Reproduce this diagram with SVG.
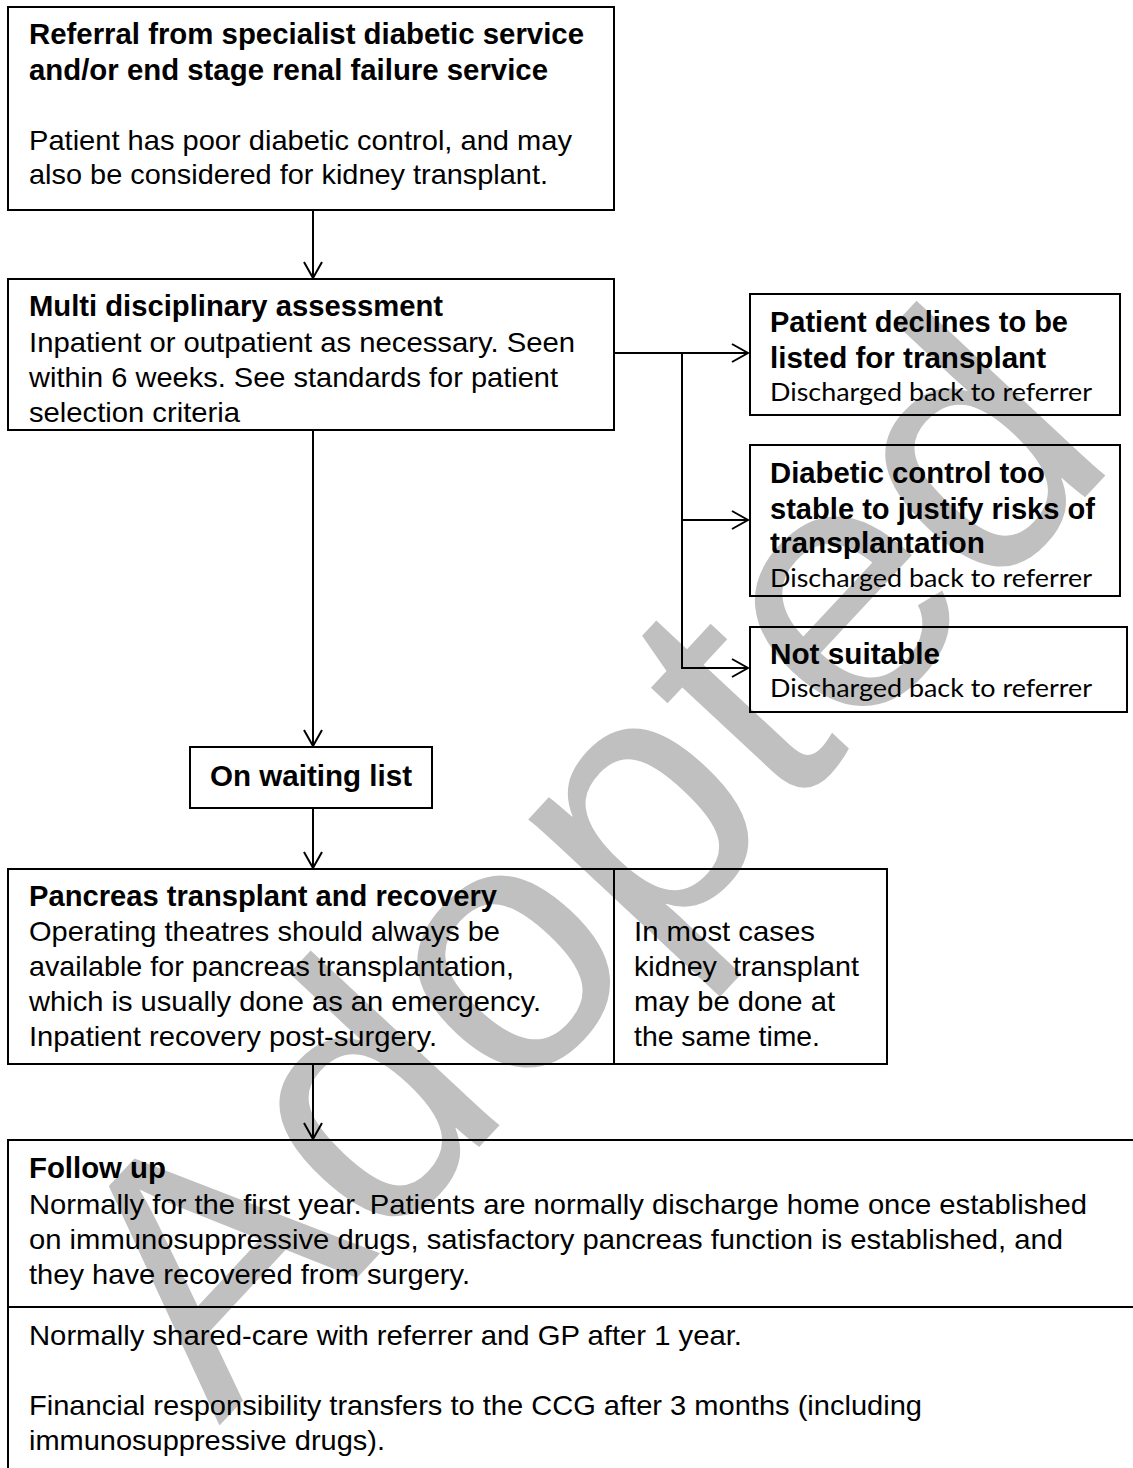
<svg xmlns="http://www.w3.org/2000/svg" width="1133" height="1468" viewBox="0 0 1133 1468">
<style>
.box{fill:none;stroke:#000;stroke-width:2}
.b{font-family:"Liberation Sans",Arial,sans-serif;font-weight:bold;font-size:29px;fill:#000}
.r{font-family:"Liberation Sans",Arial,sans-serif;font-size:28px;fill:#000}
.c{font-family:Lato,"Liberation Sans",sans-serif;font-size:25px;fill:#000}
.wm{font-family:"Liberation Sans",Arial,sans-serif;font-size:355px;fill:#c0c0c0}
.con{fill:none;stroke:#000;stroke-width:2}
</style>
<defs>
<marker id="arr" markerUnits="userSpaceOnUse" markerWidth="20" markerHeight="20" viewBox="0 0 20 20" refX="18" refY="10" orient="auto">
<path d="M2,1 L18,10 L2,19" fill="none" stroke="#000" stroke-width="2"/>
</marker>
</defs>
<rect width="1133" height="1468" fill="#fff"/>
<text class="wm" x="219" y="1426" transform="rotate(-47 219 1426)">Adopted</text>
<g id="connectors">
<line class="con" x1="313" y1="210" x2="313" y2="278" marker-end="url(#arr)"/>
<line class="con" x1="614" y1="353" x2="748" y2="353" marker-end="url(#arr)"/>
<line class="con" x1="682" y1="520" x2="748" y2="520" marker-end="url(#arr)"/>
<path class="con" d="M682,353 V668 H748" marker-end="url(#arr)"/>
<line class="con" x1="313" y1="430" x2="313" y2="746" marker-end="url(#arr)"/>
<line class="con" x1="313" y1="808" x2="313" y2="868" marker-end="url(#arr)"/>
<line class="con" x1="313" y1="1064" x2="313" y2="1139" marker-end="url(#arr)"/>
</g>
<g id="referral">
<rect class="box" x="8" y="7" width="606" height="203"/>
<text class="b" x="29" y="44" textLength="555" lengthAdjust="spacingAndGlyphs">Referral from specialist diabetic service</text>
<text class="b" x="29" y="80" textLength="519" lengthAdjust="spacingAndGlyphs">and/or end stage renal failure service</text>
<text class="r" x="29" y="150" textLength="543" lengthAdjust="spacingAndGlyphs">Patient has poor diabetic control, and may</text>
<text class="r" x="29" y="184" textLength="519" lengthAdjust="spacingAndGlyphs">also be considered for kidney transplant.</text>
</g>
<g id="assessment">
<rect class="box" x="8" y="279" width="606" height="151"/>
<text class="b" x="29" y="316" textLength="414" lengthAdjust="spacingAndGlyphs">Multi disciplinary assessment</text>
<text class="r" x="29" y="352" textLength="546" lengthAdjust="spacingAndGlyphs">Inpatient or outpatient as necessary. Seen</text>
<text class="r" x="29" y="387" textLength="529" lengthAdjust="spacingAndGlyphs">within 6 weeks. See standards for patient</text>
<text class="r" x="29" y="422" textLength="211" lengthAdjust="spacingAndGlyphs">selection criteria</text>
</g>
<g id="declines">
<rect class="box" x="750" y="294" width="370" height="121"/>
<text class="b" x="770" y="332" textLength="298" lengthAdjust="spacingAndGlyphs">Patient declines to be</text>
<text class="b" x="770" y="368" textLength="276" lengthAdjust="spacingAndGlyphs">listed for transplant</text>
<text class="c" x="770" y="401" textLength="322" lengthAdjust="spacingAndGlyphs">Discharged back to referrer</text>
</g>
<g id="stable">
<rect class="box" x="750" y="445" width="370" height="151"/>
<text class="b" x="770" y="483" textLength="275" lengthAdjust="spacingAndGlyphs">Diabetic control too</text>
<text class="b" x="770" y="519" textLength="325" lengthAdjust="spacingAndGlyphs">stable to justify risks of</text>
<text class="b" x="770" y="553" textLength="215" lengthAdjust="spacingAndGlyphs">transplantation</text>
<text class="c" x="770" y="587" textLength="322" lengthAdjust="spacingAndGlyphs">Discharged back to referrer</text>
</g>
<g id="notsuitable">
<rect class="box" x="750" y="627" width="377" height="85"/>
<text class="b" x="770" y="664" textLength="170" lengthAdjust="spacingAndGlyphs">Not suitable</text>
<text class="c" x="770" y="697" textLength="322" lengthAdjust="spacingAndGlyphs">Discharged back to referrer</text>
</g>
<g id="waiting">
<rect class="box" x="190" y="747" width="242" height="61"/>
<text class="b" x="210" y="786" textLength="202" lengthAdjust="spacingAndGlyphs">On waiting list</text>
</g>
<g id="transplant">
<rect class="box" x="8" y="869" width="879" height="195"/>
<line class="box" x1="614" y1="869" x2="614" y2="1064"/>
<text class="b" x="29" y="906" textLength="468" lengthAdjust="spacingAndGlyphs">Pancreas transplant and recovery</text>
<text class="r" x="29" y="941" textLength="471" lengthAdjust="spacingAndGlyphs">Operating theatres should always be</text>
<text class="r" x="29" y="976" textLength="485" lengthAdjust="spacingAndGlyphs">available for pancreas transplantation,</text>
<text class="r" x="29" y="1011" textLength="512" lengthAdjust="spacingAndGlyphs">which is usually done as an emergency.</text>
<text class="r" x="29" y="1046" textLength="408" lengthAdjust="spacingAndGlyphs">Inpatient recovery post-surgery.</text>
<text class="r" x="634" y="941" textLength="181" lengthAdjust="spacingAndGlyphs">In most cases</text>
<text class="r" x="634" y="976" textLength="225" lengthAdjust="spacingAndGlyphs">kidney&#160; transplant</text>
<text class="r" x="634" y="1011" textLength="201" lengthAdjust="spacingAndGlyphs">may be done at</text>
<text class="r" x="634" y="1046" textLength="186" lengthAdjust="spacingAndGlyphs">the same time.</text>
</g>
<g id="followup">
<rect class="box" x="8" y="1140" width="1140" height="167"/>
<text class="b" x="29" y="1178" textLength="137" lengthAdjust="spacingAndGlyphs">Follow up</text>
<text class="r" x="29" y="1214" textLength="1058" lengthAdjust="spacingAndGlyphs">Normally for the first year. Patients are normally discharge home once established</text>
<text class="r" x="29" y="1249" textLength="1034" lengthAdjust="spacingAndGlyphs">on immunosuppressive drugs, satisfactory pancreas function is established, and</text>
<text class="r" x="29" y="1284" textLength="441" lengthAdjust="spacingAndGlyphs">they have recovered from surgery.</text>
</g>
<g id="sharedcare">
<rect class="box" x="8" y="1307" width="1140" height="175"/>
<text class="r" x="29" y="1345" textLength="713" lengthAdjust="spacingAndGlyphs">Normally shared-care with referrer and GP after 1 year.</text>
<text class="r" x="29" y="1415" textLength="893" lengthAdjust="spacingAndGlyphs">Financial responsibility transfers to the CCG after 3 months (including</text>
<text class="r" x="29" y="1450" textLength="356" lengthAdjust="spacingAndGlyphs">immunosuppressive drugs).</text>
</g>
</svg>
